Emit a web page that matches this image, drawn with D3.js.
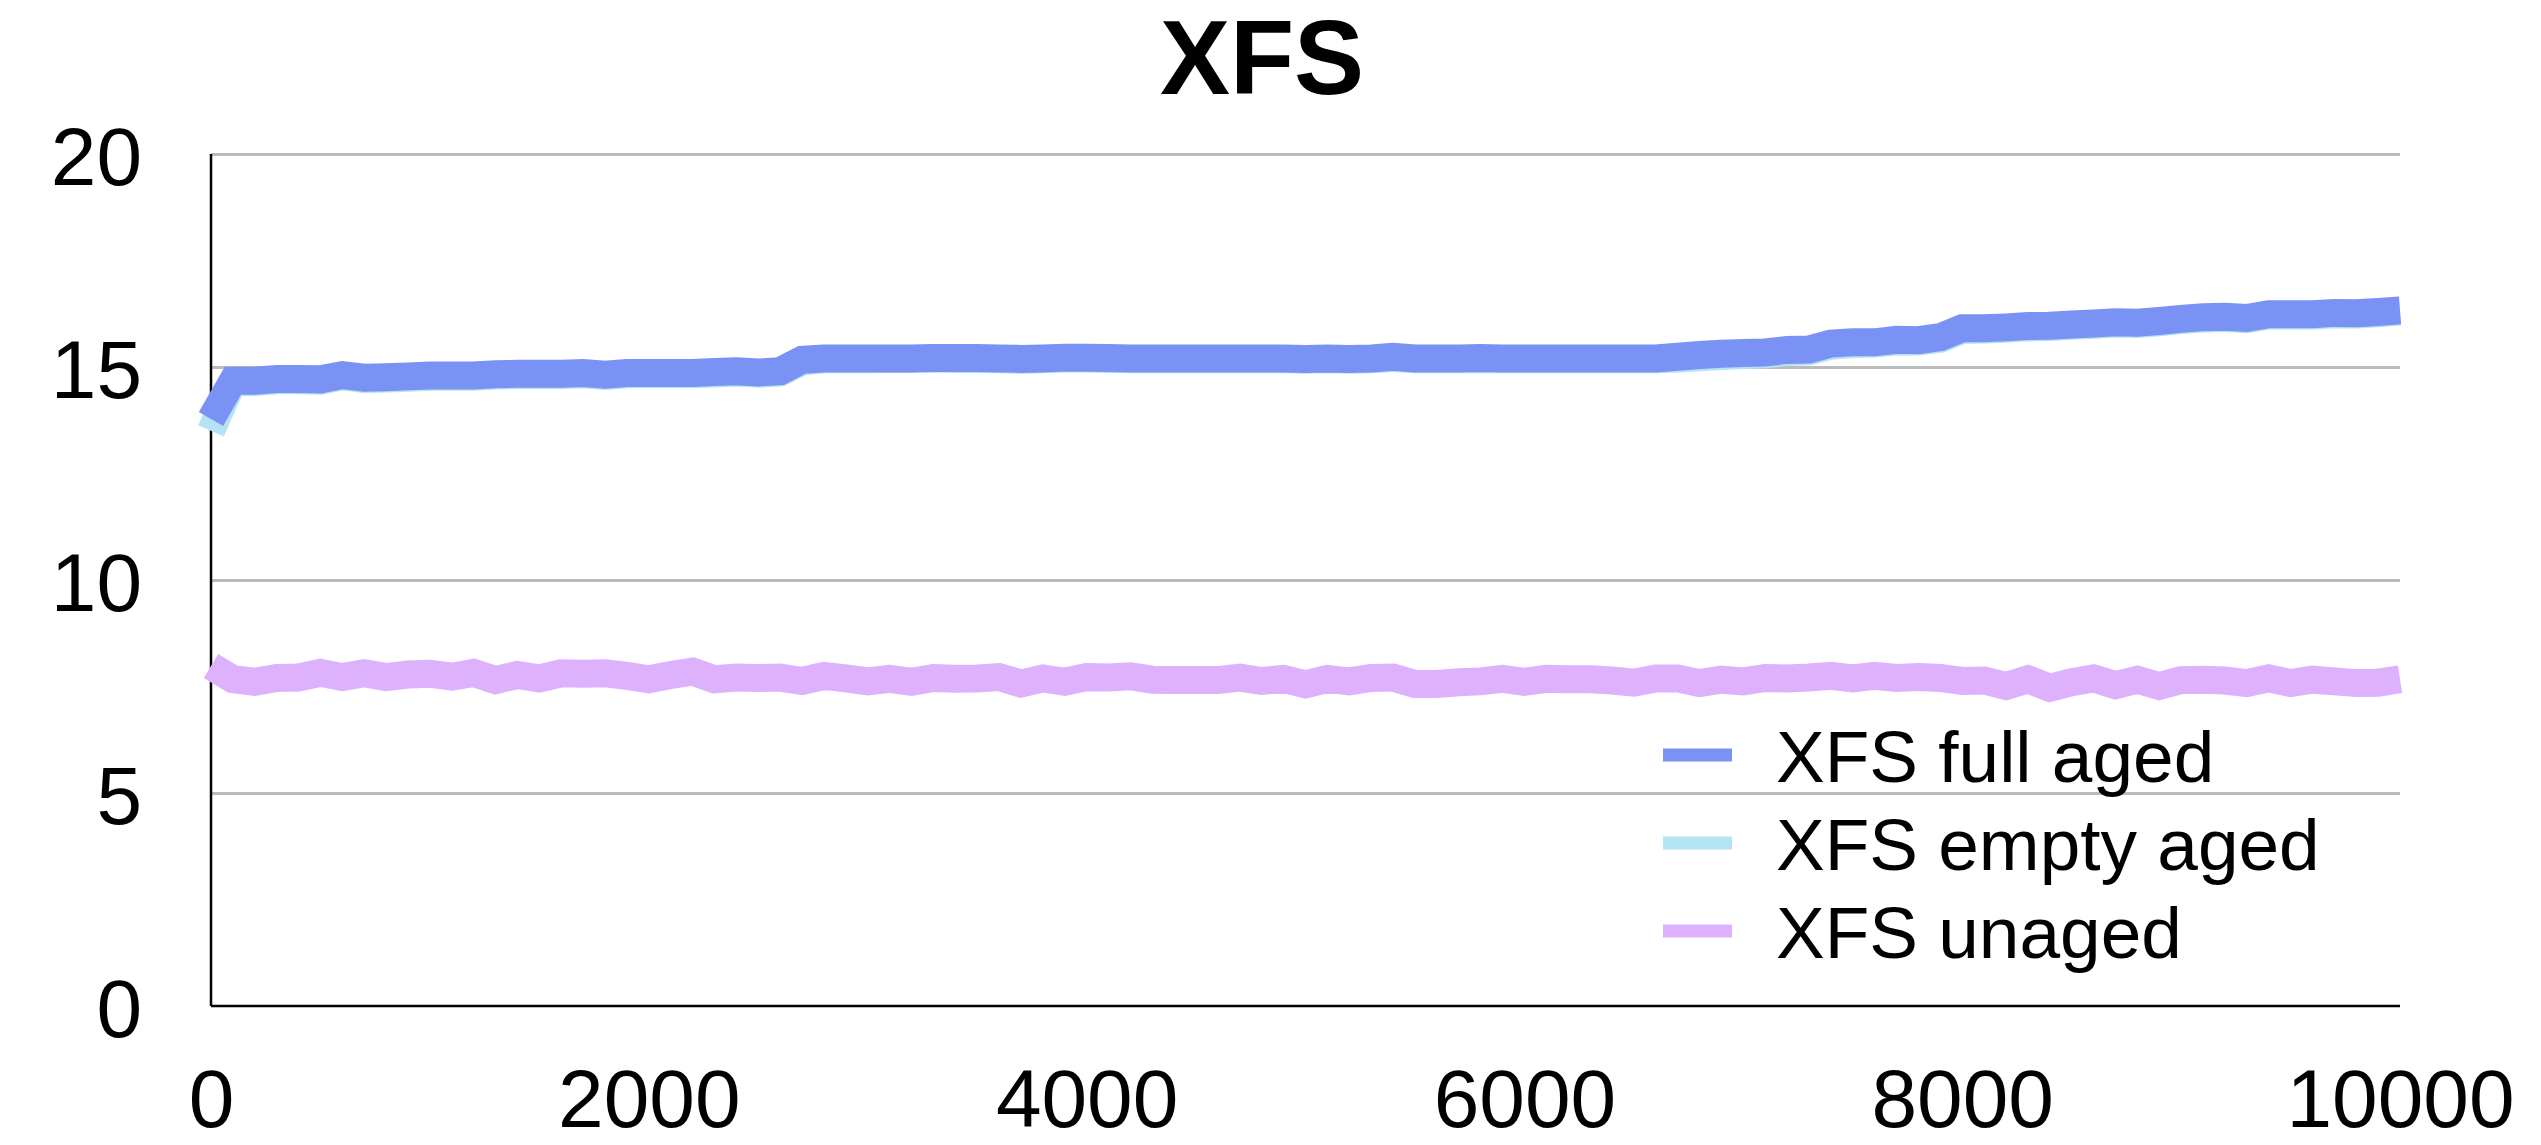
<!DOCTYPE html>
<html>
<head>
<meta charset="utf-8">
<script src="https://cdn.jsdelivr.net/npm/d3@7"></script>
<style>
  html, body { margin: 0; padding: 0; background: #fff; }
  svg { display: block; font-family: "Liberation Sans", Arial, Helvetica, sans-serif; }
</style>
</head>
<body>
<svg id="chart" width="2541" height="1145"></svg>
<script>
// Chart content
const chartTitle = "XFS";
const seriesNames = ["XFS full aged", "XFS empty aged", "XFS unaged"];
const seriesColors = ["#7b92f5", "#b4e3f3", "#deb1fd"];
const xTicks = [0, 2000, 4000, 6000, 8000, 10000];
const yTicks = [0, 5, 10, 15, 20];

// Sample positions: one reading every 100 operations
const operations = d3.range(0, 10001, 100);

const fullAged = [
  13.78, 14.68, 14.68, 14.72, 14.72, 14.71, 14.81, 14.75, 14.76, 14.78,
  14.80, 14.80, 14.80, 14.83, 14.84, 14.84, 14.84, 14.86, 14.82, 14.86,
  14.86, 14.86, 14.86, 14.88, 14.90, 14.87, 14.90, 15.17, 15.20, 15.20,
  15.20, 15.20, 15.20, 15.21, 15.21, 15.21, 15.20, 15.19, 15.20, 15.22,
  15.22, 15.21, 15.20, 15.20, 15.20, 15.20, 15.20, 15.20, 15.20, 15.20,
  15.19, 15.20, 15.19, 15.20, 15.24, 15.20, 15.20, 15.20, 15.21, 15.20,
  15.20, 15.20, 15.20, 15.20, 15.20, 15.20, 15.20, 15.24, 15.28, 15.31,
  15.33, 15.34, 15.40, 15.41, 15.55, 15.58, 15.58, 15.64, 15.63, 15.70,
  15.91, 15.91, 15.93, 15.96, 15.97, 16.00, 16.02, 16.05, 16.04, 16.08,
  16.13, 16.17, 16.18, 16.15, 16.24, 16.24, 16.24, 16.27, 16.26, 16.29,
  16.33
];

const emptyAged = [
  13.50, 14.65, 14.65, 14.69, 14.69, 14.68, 14.78, 14.72, 14.73, 14.75,
  14.77, 14.77, 14.77, 14.80, 14.81, 14.81, 14.81, 14.83, 14.79, 14.83,
  14.83, 14.83, 14.83, 14.85, 14.87, 14.84, 14.87, 15.13, 15.18, 15.18,
  15.18, 15.19, 15.19, 15.20, 15.19, 15.19, 15.18, 15.17, 15.18, 15.20,
  15.20, 15.19, 15.18, 15.18, 15.18, 15.18, 15.18, 15.18, 15.18, 15.18,
  15.17, 15.18, 15.17, 15.18, 15.21, 15.18, 15.18, 15.18, 15.19, 15.18,
  15.18, 15.18, 15.18, 15.18, 15.18, 15.18, 15.18, 15.20, 15.23, 15.26,
  15.28, 15.30, 15.35, 15.37, 15.50, 15.54, 15.55, 15.60, 15.60, 15.66,
  15.87, 15.88, 15.90, 15.93, 15.94, 15.97, 15.99, 16.02, 16.01, 16.05,
  16.10, 16.14, 16.15, 16.12, 16.21, 16.21, 16.21, 16.24, 16.23, 16.26,
  16.30
];

const unaged = [
  7.98, 7.67, 7.61, 7.70, 7.71, 7.82, 7.72, 7.81, 7.72, 7.78,
  7.80, 7.73, 7.82, 7.65, 7.77, 7.69, 7.81, 7.80, 7.81, 7.75,
  7.67, 7.77, 7.85, 7.67, 7.71, 7.70, 7.71, 7.63, 7.75, 7.69,
  7.62, 7.68, 7.61, 7.70, 7.68, 7.69, 7.72, 7.57, 7.69, 7.61,
  7.72, 7.71, 7.74, 7.66, 7.65, 7.65, 7.65, 7.71, 7.63, 7.68,
  7.55, 7.68, 7.62, 7.70, 7.71, 7.56, 7.56, 7.60, 7.62, 7.68,
  7.61, 7.68, 7.67, 7.67, 7.64, 7.59, 7.69, 7.69, 7.58, 7.66,
  7.62, 7.70, 7.69, 7.71, 7.75, 7.69, 7.75, 7.70, 7.72, 7.70,
  7.63, 7.64, 7.51, 7.67, 7.47, 7.60, 7.69, 7.53, 7.66, 7.51,
  7.65, 7.66, 7.64, 7.58, 7.69, 7.58, 7.66, 7.62, 7.58, 7.59,
  7.67
];

// Layout
const plot = { left: 211, right: 2400, top: 154, bottom: 1006 };
const svg = d3.select("#chart");

const x = d3.scaleLinear().domain([0, 10000]).range([plot.left, plot.right]);
const y = d3.scaleLinear().domain([0, 20]).range([plot.bottom, plot.top]);

// Horizontal gridlines and y tick labels
const yAxis = svg.append("g")
  .attr("transform", `translate(${plot.left},0)`)
  .call(d3.axisLeft(y)
    .tickValues(yTicks)
    .tickFormat(d3.format("d"))
    .tickSize(-(plot.right - plot.left))
    .tickPadding(69));
yAxis.select(".domain").remove();
yAxis.selectAll(".tick line")
  .attr("stroke", d => d === 0 ? "none" : "#bbbbbb")
  .attr("stroke-width", 3);
yAxis.selectAll(".tick text")
  .attr("font-size", 82)
  .attr("font-family", "'Liberation Sans', Arial, sans-serif")
  .attr("fill", "#000")
  .attr("dy", "0.37em");

// X tick labels
const xAxis = svg.append("g")
  .attr("transform", `translate(0,${plot.bottom})`)
  .call(d3.axisBottom(x)
    .tickValues(xTicks)
    .tickFormat(d3.format("d"))
    .tickSize(0)
    .tickPadding(63));
xAxis.select(".domain").remove();
xAxis.selectAll(".tick text")
  .attr("font-size", 82)
  .attr("font-family", "'Liberation Sans', Arial, sans-serif")
  .attr("fill", "#000");

// Axis lines
svg.append("line")
  .attr("x1", plot.left).attr("x2", plot.left)
  .attr("y1", y(20)).attr("y2", y(0))
  .attr("stroke", "#000").attr("stroke-width", 2.5);
svg.append("line")
  .attr("x1", plot.left).attr("x2", x(10000))
  .attr("y1", y(0)).attr("y2", y(0))
  .attr("stroke", "#000").attr("stroke-width", 2.5);

// Series lines (unaged beneath, full aged on top)
const line = d3.line()
  .x((d, i) => x(operations[i]))
  .y(d => y(d));

const drawOrder = [
  { values: unaged, color: seriesColors[2] },
  { values: emptyAged, color: seriesColors[1] },
  { values: fullAged, color: seriesColors[0] }
];
svg.append("g").selectAll("path")
  .data(drawOrder)
  .join("path")
  .attr("d", d => line(d.values))
  .attr("fill", "none")
  .attr("stroke", d => d.color)
  .attr("stroke-width", 28)
  .attr("stroke-linejoin", "miter")
  .attr("stroke-miterlimit", 10)
  .attr("stroke-linecap", "butt");

// Title
svg.append("text")
  .attr("x", 1262)
  .attr("y", 94)
  .attr("text-anchor", "middle")
  .attr("font-size", 105)
  .attr("font-weight", "bold")
  .attr("fill", "#000")
  .text(chartTitle);

// Legend
const legend = svg.append("g").attr("transform", "translate(1663,755)");
const rows = legend.selectAll("g")
  .data(seriesNames)
  .join("g")
  .attr("transform", (d, i) => `translate(0,${i * 88})`);
rows.append("rect")
  .attr("x", 0).attr("y", -6.5)
  .attr("width", 69).attr("height", 13)
  .attr("fill", (d, i) => seriesColors[i]);
rows.append("text")
  .attr("x", 113)
  .attr("y", 27)
  .attr("font-size", 73)
  .attr("fill", "#000")
  .text(d => d);
</script>
</body>
</html>
